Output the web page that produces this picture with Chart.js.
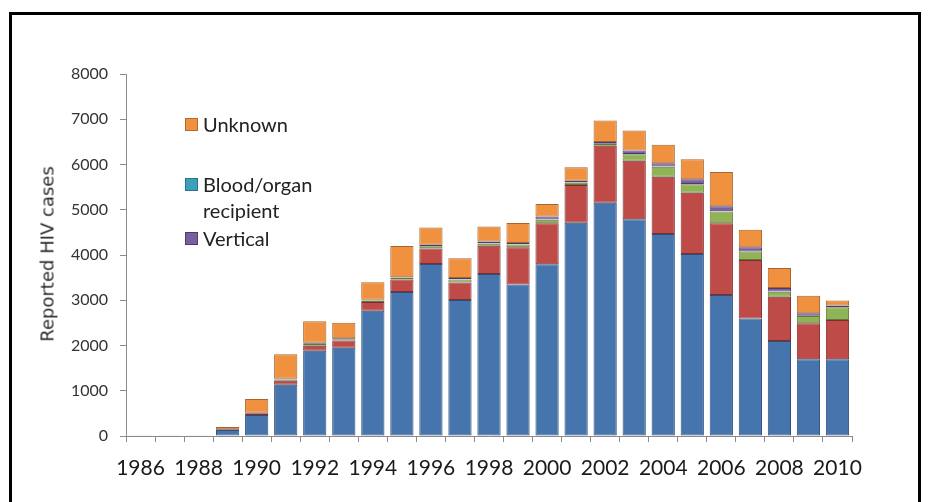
<!DOCTYPE html>
<html>
<head>
<meta charset="utf-8">
<script src="https://cdn.jsdelivr.net/npm/chart.js@4/dist/chart.umd.min.js"></script>
<style>
  html, body { margin: 0; padding: 0; background: #ffffff; }
  body { width: 930px; height: 502px; position: relative; overflow: hidden; }
  #frame { position: absolute; left: 9px; top: 12px; width: 906px; height: 520px;
           border-top: 3px solid #000; border-left: 3px solid #000; border-right: 3px solid #000; }
  #wrap { position: absolute; left: 0; top: 0; width: 930px; height: 502px; }
  #ytitle { position: absolute; left: 47px; top: 254px; transform: translate(-50%, -50%) rotate(-90deg);
            font-family: "DejaVu Sans", sans-serif; font-size: 18px; color: #2a2a2a; white-space: nowrap; }
  .lg { position: absolute; font-family: Lato, sans-serif; font-size: 20px; color: #222; line-height: 26px; }
  .sw { position: absolute; width: 11px; height: 11px; }
</style>
</head>
<body>
<div id="frame"></div>
<div id="wrap"><canvas id="c" width="930" height="502"></canvas></div>
<div id="ytitle">Reported HIV cases</div>
<div class="sw" style="left:185px;top:118px;background:#F0913F;border:1px solid #B5692C;"></div>
<div class="lg" style="left:203px;top:111px;">Unknown</div>
<div class="sw" style="left:185px;top:178px;background:#3AA0BC;border:1px solid #2A7388;"></div>
<div class="lg" style="left:203px;top:171px;">Blood/organ<br>recipient</div>
<div class="sw" style="left:185px;top:232px;background:#7A5EA0;border:1px solid #4F3A6E;"></div>
<div class="lg" style="left:203px;top:225px;">Vertical</div>
<script>
const years = ["1986","1987","1988","1989","1990","1991","1992","1993","1994","1995","1996","1997","1998","1999","2000","2001","2002","2003","2004","2005","2006","2007","2008","2009","2010"];
const series1 = [5,5,10,130,465,1130,1885,1950,2770,3180,3800,3005,3580,3350,3795,4715,5155,4790,4465,4020,3115,2595,2100,1695,1695];
const series2 = [0,0,0,20,40,90,110,160,190,280,345,385,625,820,905,830,1260,1295,1265,1355,1585,1295,980,795,870];
const series3 = [0,0,0,0,5,25,40,30,30,30,50,70,50,60,80,50,40,140,220,190,260,185,110,160,280];
const bloodOrgan = [0,0,0,0,0,5,5,5,5,5,5,5,5,5,5,5,5,5,5,5,5,5,5,5,5];
const vertical = [0,0,0,0,5,15,20,15,15,15,25,25,40,30,65,40,35,80,75,105,110,90,75,60,35];
const unknown = [0,0,5,50,305,540,475,345,390,690,385,440,330,440,275,300,480,440,405,440,760,390,440,385,110];
const yTicks = [0,1000,2000,3000,4000,5000,6000,7000,8000];

const PAD = { left: 20, right: 78, top: 74, bottom: 10 };
const ctx = document.getElementById('c').getContext('2d');
function ds(label, data, bg, bd) {
  return { label, data, backgroundColor: bg, borderColor: bd, borderWidth: 1,
           barPercentage: 0.8, categoryPercentage: 1.0, borderSkipped: false };
}
new Chart(ctx, {
  type: 'bar',
  data: {
    labels: years,
    datasets: [
      ds('Series 1', series1, '#4674AC', '#2F4F7A'),
      ds('Series 2', series2, '#BE4B48', '#7F2D2B'),
      ds('Series 3', series3, '#8FB356', '#5E7A35'),
      ds('Blood/organ recipient', bloodOrgan, '#3AA0BC', '#2A7388'),
      ds('Vertical', vertical, '#7A5EA0', '#4F3A6E'),
      ds('Unknown', unknown, '#F0913F', '#A8652C')
    ]
  },
  options: {
    responsive: false,
    animation: false,
    devicePixelRatio: 1,
    layout: { padding: PAD },
    plugins: { legend: { display: false }, tooltip: { enabled: false } },
    scales: {
      x: {
        stacked: true,
        offset: true,
        grid: { display: true, drawOnChartArea: false, offset: true, tickLength: 6, color: '#8a8a8a', lineWidth: 1 },
        border: { display: true, color: '#8a8a8a', width: 1 },
        ticks: {
          autoSkip: false, maxRotation: 0, minRotation: 0, padding: 14,
          color: '#1a1a1a', font: { family: 'Lato', size: 21 },
          callback: function(v, i) { return i % 2 === 0 ? years[i] : ''; }
        },
        afterFit: function(s) { s.height = 502 - 436 - PAD.bottom; }
      },
      y: {
        stacked: true,
        min: 0, max: 8000,
        afterBuildTicks: function(s) { s.ticks = yTicks.map(v => ({ value: v })); },
        grid: { display: true, drawOnChartArea: false, tickLength: 6, color: '#8a8a8a', lineWidth: 1 },
        border: { display: true, color: '#8a8a8a', width: 1 },
        ticks: { padding: 12, color: '#333', font: { family: 'Lato', size: 16 },
                 callback: function(v) { return String(v); } },
        afterFit: function(s) { s.width = 126 - PAD.left; }
      }
    }
  }
});
</script>
</body>
</html>
